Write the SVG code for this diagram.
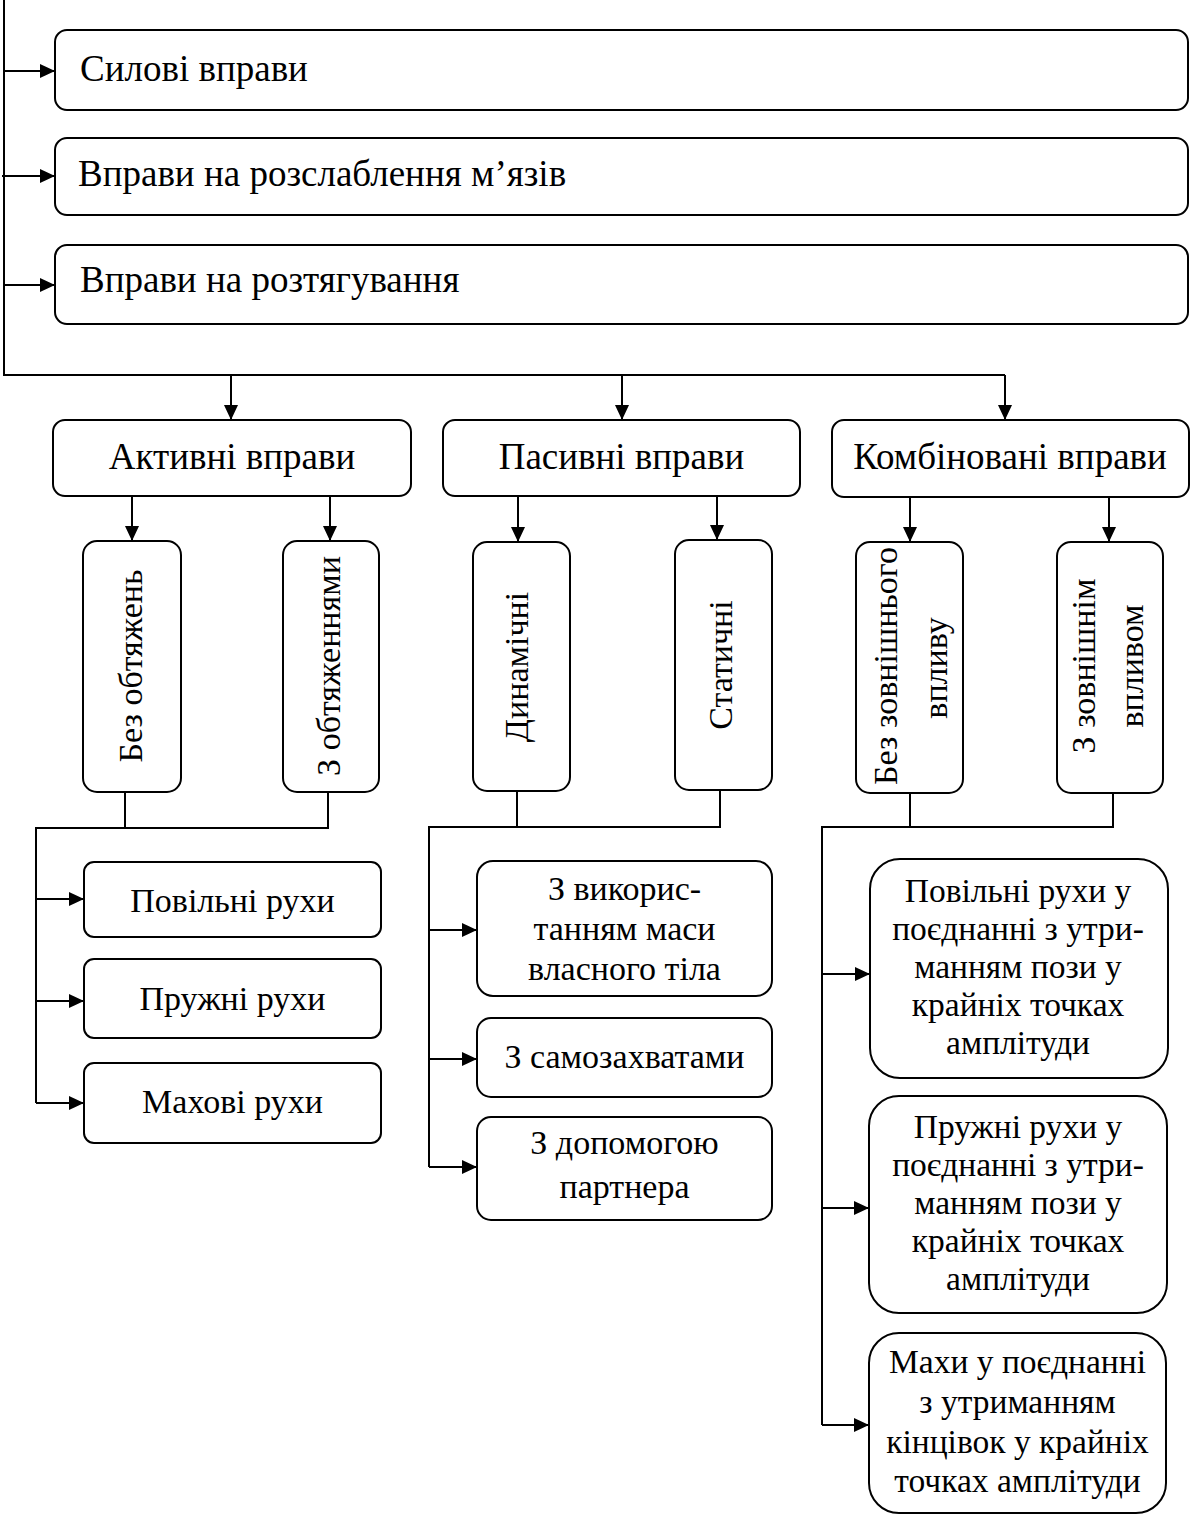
<svg xmlns="http://www.w3.org/2000/svg" width="1192" height="1515" viewBox="0 0 1192 1515">
<defs>
<marker id="ah" markerUnits="userSpaceOnUse" markerWidth="15" markerHeight="14" refX="15" refY="7" orient="auto">
<path d="M0,0 L15,7 L0,14 z" fill="#000"/>
</marker>
<style>
rect{fill:#fff;stroke:#000;stroke-width:2}
text{font-family:"Liberation Serif","Times New Roman",serif;fill:#000}
.t1{font-size:37px}
.t2{font-size:37px;text-anchor:middle}
.t3{font-size:34px;text-anchor:middle}
.t4{font-size:33.5px;text-anchor:middle}
.c line,.c polyline{stroke:#000;stroke-width:2;fill:none}
.a{marker-end:url(#ah)}
</style>
</defs>
<rect x="0" y="0" width="1192" height="1515" style="fill:#fff;stroke:none"/>
<g class="c" id="connectors">
<polyline points="4,0 4,375 1005,375"/>
<line class="a" x1="4" y1="71" x2="55" y2="71"/>
<line class="a" x1="2" y1="176" x2="55" y2="176"/>
<line class="a" x1="4" y1="285" x2="55" y2="285"/>
<line class="a" x1="231" y1="375" x2="231" y2="420"/>
<line class="a" x1="622" y1="375" x2="622" y2="420"/>
<line class="a" x1="1005" y1="375" x2="1005" y2="420"/>
<line class="a" x1="132" y1="496" x2="132" y2="541"/>
<line class="a" x1="330" y1="496" x2="330" y2="541"/>
<line class="a" x1="518" y1="496" x2="518" y2="542"/>
<line class="a" x1="717" y1="496" x2="717" y2="540"/>
<line class="a" x1="910" y1="497" x2="910" y2="542"/>
<line class="a" x1="1109" y1="497" x2="1109" y2="542"/>
<polyline points="125,792 125,828"/>
<polyline points="328,792 328,828 36,828 36,1103"/>
<line class="a" x1="36" y1="899" x2="84" y2="899"/>
<line class="a" x1="36" y1="1001" x2="84" y2="1001"/>
<line class="a" x1="36" y1="1103" x2="84" y2="1103"/>
<polyline points="517,791 517,827"/>
<polyline points="720,790 720,827 429,827 429,1167"/>
<line class="a" x1="429" y1="930" x2="477" y2="930"/>
<line class="a" x1="429" y1="1059" x2="477" y2="1059"/>
<line class="a" x1="429" y1="1167" x2="477" y2="1167"/>
<polyline points="910,793 910,827"/>
<polyline points="1113,793 1113,827 822,827 822,1425"/>
<line class="a" x1="822" y1="974" x2="870" y2="974"/>
<line class="a" x1="822" y1="1208" x2="869" y2="1208"/>
<line class="a" x1="822" y1="1425" x2="869" y2="1425"/>
</g>
<g id="n-sylovi"><rect x="55" y="30" width="1133" height="80" rx="12"/><text class="t1" x="80" y="81">Силові вправи</text></g>
<g id="n-rozslablennia"><rect x="55" y="138" width="1133" height="77" rx="12"/><text class="t1" x="78" y="186">Вправи на розслаблення м’язів</text></g>
<g id="n-roztiahuvannia"><rect x="55" y="245" width="1133" height="79" rx="12"/><text class="t1" x="80" y="292">Вправи на розтягування</text></g>
<g id="n-aktyvni"><rect x="53" y="420" width="358" height="76" rx="12"/><text class="t2" x="232" y="469">Активні вправи</text></g>
<g id="n-pasyvni"><rect x="443" y="420" width="357" height="76" rx="12"/><text class="t2" x="621.5" y="469">Пасивні вправи</text></g>
<g id="n-kombinovani"><rect x="832" y="420" width="357" height="77" rx="12"/><text class="t2" x="1010" y="469">Комбіновані вправи</text></g>
<g id="n-bez-obt"><rect x="83" y="541" width="98" height="251" rx="14"/><text class="t3" transform="translate(142,666) rotate(-90)">Без обтяжень</text></g>
<g id="n-z-obt"><rect x="283" y="541" width="96" height="251" rx="14"/><text class="t3" transform="translate(340,666) rotate(-90)">З обтяженнями</text></g>
<g id="n-dynamichni"><rect x="473" y="542" width="97" height="249" rx="14"/><text class="t3" transform="translate(528,667) rotate(-90)">Динамічні</text></g>
<g id="n-statychni"><rect x="675" y="540" width="97" height="250" rx="14"/><text class="t3" transform="translate(732,665) rotate(-90)">Статичні</text></g>
<g id="n-bez-vplyvu"><rect x="856" y="542" width="107" height="251" rx="14"/><text class="t3" transform="translate(897,666) rotate(-90)">Без зовнішнього</text><text class="t3" transform="translate(947,668) rotate(-90)">впливу</text></g>
<g id="n-z-vplyvom"><rect x="1057" y="542" width="106" height="251" rx="14"/><text class="t3" transform="translate(1095,666) rotate(-90)">З зовнішнім</text><text class="t3" transform="translate(1143,666) rotate(-90)">впливом</text></g>
<g id="n-povilni"><rect x="84" y="862" width="297" height="75" rx="10"/><text class="t3" x="232.5" y="912">Повільні рухи</text></g>
<g id="n-pruzhni"><rect x="84" y="959" width="297" height="79" rx="10"/><text class="t3" x="232.5" y="1010">Пружні рухи</text></g>
<g id="n-makhovi"><rect x="84" y="1063" width="297" height="80" rx="10"/><text class="t3" x="232.5" y="1113">Махові рухи</text></g>
<g id="n-masa"><rect x="477" y="861" width="295" height="135" rx="16"/><text class="t3" x="624.5" y="900">З викорис-</text><text class="t3" x="624.5" y="940">танням маси</text><text class="t3" x="624.5" y="980">власного тіла</text></g>
<g id="n-samozakhvaty"><rect x="477" y="1018" width="295" height="79" rx="14"/><text class="t3" x="624.5" y="1068">З самозахватами</text></g>
<g id="n-partner"><rect x="477" y="1117" width="295" height="103" rx="14"/><text class="t3" x="624.5" y="1154">З допомогою</text><text class="t3" x="624.5" y="1198">партнера</text></g>
<g id="n-r1"><rect x="870" y="859" width="298" height="219" rx="30"/><text class="t4" x="1018" y="902">Повільні рухи у</text><text class="t4" x="1018" y="940">поєднанні з утри-</text><text class="t4" x="1018" y="978">манням пози у</text><text class="t4" x="1018" y="1016">крайніх точках</text><text class="t4" x="1018" y="1054">амплітуди</text></g>
<g id="n-r2"><rect x="869" y="1096" width="298" height="217" rx="30"/><text class="t4" x="1018" y="1138">Пружні рухи у</text><text class="t4" x="1018" y="1176">поєднанні з утри-</text><text class="t4" x="1018" y="1214">манням пози у</text><text class="t4" x="1018" y="1252">крайніх точках</text><text class="t4" x="1018" y="1290">амплітуди</text></g>
<g id="n-r3"><rect x="869" y="1333" width="297" height="180" rx="30"/><text class="t4" x="1017.5" y="1373">Махи у поєднанні</text><text class="t4" x="1017.5" y="1413">з утриманням</text><text class="t4" x="1017.5" y="1453">кінцівок у крайніх</text><text class="t4" x="1017.5" y="1492">точках амплітуди</text></g>
</svg>
